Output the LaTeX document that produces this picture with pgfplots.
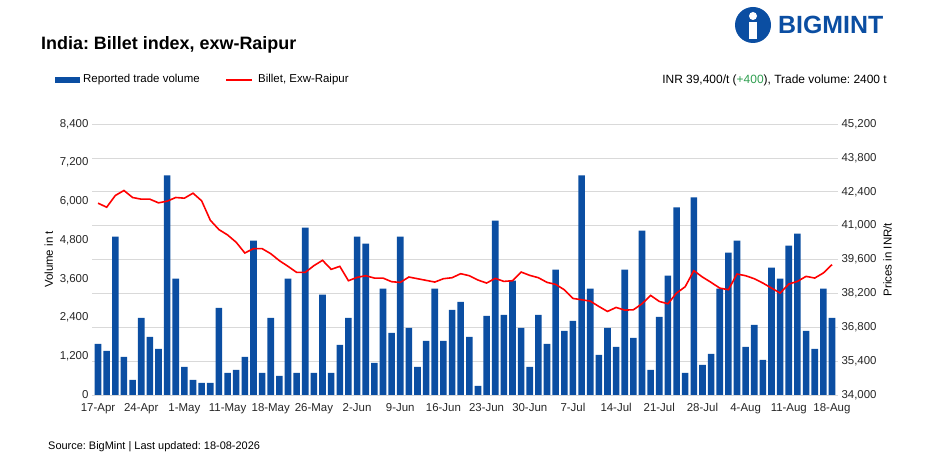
\documentclass[border=0pt]{standalone}
\usepackage{pgfplots}
\pgfplotsset{compat=1.18}
\usepackage{pgfplotstable}
\usepackage{fontspec}
\setmainfont{Liberation Sans}
\frenchspacing
\definecolor{barblue}{HTML}{0B4EA2}
\definecolor{gridc}{HTML}{D9D9D9}
\definecolor{upgreen}{HTML}{2E9E4F}
\pgfplotstableread{
x vol price
0 1585 41927
1 1368 41761
2 4911 42245
3 1181 42452
4 466 42162
5 2393 42093
6 1803 42093
7 1430 41941
8 6807 42010
9 3605 42162
10 870 42134
11 466 42341
12 373 42024
13 373 41223
14 2704 40836
15 684 40615
16 777 40311
17 1181 39869
18 4786 40049
19 684 40049
20 2393 39841
21 590 39552
22 3605 39317
23 684 39068
24 5190 39068
25 684 39345
26 3108 39566
27 684 39193
28 1554 39317
29 2393 38723
30 4911 38861
31 4693 38930
32 995 38833
33 3294 38833
34 1927 38682
35 4911 38654
36 2082 38875
37 870 38806
38 1678 38737
39 3294 38668
40 1678 38806
41 2642 38847
42 2890 39013
43 1803 38930
44 280 38751
45 2455 38626
46 5408 38820
47 2486 38695
48 3543 38723
49 2082 39082
50 870 38944
51 2486 38847
52 1585 38654
53 3885 38571
54 1989 38350
55 2300 37991
56 6807 37936
57 3294 37881
58 1243 37660
59 2082 37453
60 1492 37618
61 3885 37508
62 1772 37522
63 5097 37770
64 777 38115
65 2424 37867
66 3699 37770
67 5812 38212
68 684 38474
69 6123 39137
70 932 38875
71 1274 38654
72 3294 38419
73 4413 38350
74 4786 38999
75 1492 38930
76 2176 38806
77 1088 38626
78 3947 38419
79 3605 38212
80 4631 38585
81 5004 38695
82 1989 38903
83 1430 38833
84 3294 39041
85 2393 39386
}\data
\pgfplotsset{myax/.style={scale only axis, width=746bp, height=271bp,
  at={(92bp,70bp)}, anchor=south west, xmin=-0.7, xmax=85.7,
  tick style={draw=none}, tick label style={font=\fontsize{11.5}{13}\selectfont, text=black!85},
  label style={font=\fontsize{11.5}{13}\selectfont},
  scaled ticks=false,
  /pgf/number format/assume math mode=true,
  /pgf/number format/1000 sep={,}}}
\begin{document}
\begin{tikzpicture}
\useasboundingbox (0,0) rectangle (929bp,465bp);
\begin{axis}[myax, axis y line*=right, axis x line=none,
  ymin=34000, ymax=45200, ytick={34000,35400,...,45200},
  ymajorgrids, grid style={gridc, line width=0.6pt},
  axis line style={draw=none},
  ylabel={Prices in INR/t}]
\end{axis}
\begin{axis}[myax, axis y line*=left, axis x line*=bottom,
  ymin=0, ymax=8400, ytick={0,1200,...,8400},
  axis line style={draw=none},
  xtick={0,5,...,85},
  xticklabel style={yshift=-5bp},
  xticklabels={17-Apr,24-Apr,1-May,11-May,18-May,26-May,2-Jun,9-Jun,16-Jun,23-Jun,30-Jun,7-Jul,14-Jul,21-Jul,28-Jul,4-Aug,11-Aug,18-Aug},
  ylabel={Volume in t}]
\addplot[ybar, bar width=6.6bp, fill=barblue, draw=none] table[x=x,y=vol]{\data};
\draw[gray, line width=0.8pt] (axis cs:-0.7,0) -- (axis cs:85.7,0);
\end{axis}
\begin{axis}[myax, axis lines=none, ymin=34000, ymax=45200]
\addplot[red, line width=1.6pt, no marks] table[x=x,y=price]{\data};
\end{axis}
\node[anchor=west, font=\bfseries\fontsize{18}{21}\selectfont, inner sep=0pt] at (41bp,420bp) {India: Billet index, exw-Raipur};
\fill[barblue] (55bp,382bp) rectangle (80bp,388bp);
\node[anchor=west, font=\fontsize{11.5}{13}\selectfont, inner sep=0pt] at (83bp,385bp) {Reported trade volume};
\fill[red] (226bp,384bp) rectangle (252bp,386bp);
\node[anchor=west, font=\fontsize{11.5}{13}\selectfont, inner sep=0pt] at (258bp,385bp) {Billet, Exw-Raipur};
\node[anchor=east, font=\fontsize{12}{14}\selectfont, inner sep=0pt] at (887bp,385bp) {INR 39,400/t ({\color{upgreen}+400}), Trade volume: 2400 t};
\node[anchor=west, font=\fontsize{11}{13}\selectfont, inner sep=0pt] at (48bp,18bp) {Source: BigMint | Last updated: 18-08-2026};
\fill[barblue] (753bp,440bp) circle (18bp);
\fill[white] (753bp,449bp) circle (4bp);
\fill[white] (749bp,426bp) rectangle (757bp,443bp);
\node[anchor=west, text=barblue, font=\bfseries\fontsize{25}{28}\selectfont, inner sep=0pt] at (778bp,440bp) {BIGMINT};
\end{tikzpicture}
\end{document}
